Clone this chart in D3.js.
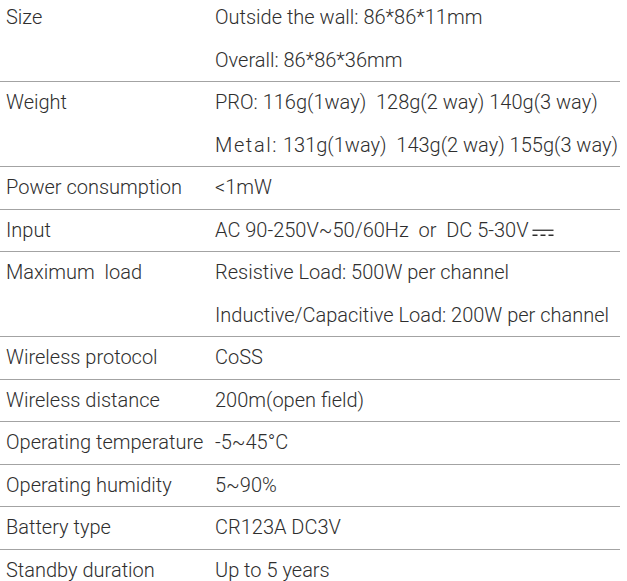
<!DOCTYPE html>
<html>
<head>
<meta charset="utf-8">
<script src="https://cdn.jsdelivr.net/npm/d3@7"></script>
<style>
  html, body { margin: 0; padding: 0; background: #fff; }
  svg { display: block; }
  text { font-family: Roboto, "Liberation Sans", Arial, sans-serif; font-weight: 300; font-size: 20px; fill: #2e2e2e; white-space: pre; }
</style>
</head>
<body>
<svg id="chart" width="627" height="581"></svg>
<script>
// ---- data ----
const labels = [
  "Size", "Weight", "Power consumption", "Input", "Maximum  load",
  "Wireless protocol", "Wireless distance", "Operating temperature",
  "Operating humidity", "Battery type", "Standby duration"
];
const sizeValues = ["Outside the wall: 86*86*11mm", "Overall: 86*86*36mm"];
const weightValues = ["PRO: 116g(1way)  128g(2 way) 140g(3 way)", "Metal: 131g(1way)  143g(2 way) 155g(3 way)"];
const powerValues = ["<1mW"];
const inputValues = ["AC 90-250V~50/60Hz  or  DC 5-30V"];
const loadValues = ["Resistive Load: 500W per channel", "Inductive/Capacitive Load: 200W per channel"];
const protocolValues = ["CoSS"];
const distanceValues = ["200m(open field)"];
const temperatureValues = ["-5~45°C"];
const humidityValues = ["5~90%"];
const batteryValues = ["CR123A DC3V"];
const standbyValues = ["Up to 5 years"];
const valueLists = [sizeValues, weightValues, powerValues, inputValues, loadValues,
  protocolValues, distanceValues, temperatureValues, humidityValues, batteryValues, standbyValues];

// ---- build rows ----
let acc = 0;
const rows = labels.map((label, i) => {
  const r = { label, values: valueLists[i], start: acc };
  acc += valueLists[i].length;
  return r;
});
const totalUnits = acc;

const svg = d3.select("#chart");
const y = d3.scaleLinear().domain([0, totalUnits]).range([-4, 591]);
const x = d3.scaleOrdinal().domain(["label", "value", "end"]).range([6, 215, 620]);
const unitH = y(1) - y(0);
const baseOff = 7.2;

// separator lines
svg.append("g").selectAll("line")
  .data(rows.slice(1))
  .join("line")
  .attr("x1", 0).attr("x2", x("end"))
  .attr("y1", d => Math.round(y(d.start)) + 0.5)
  .attr("y2", d => Math.round(y(d.start)) + 0.5)
  .attr("stroke", "#a3a3a3").attr("stroke-width", 1.2);

// labels
svg.append("g").selectAll("text")
  .data(rows)
  .join("text")
  .attr("x", x("label"))
  .attr("y", d => y(d.start) + unitH / 2 + baseOff)
  .text(d => d.label);

// values
const vals = rows.flatMap(r => r.values.map((v, j) => ({ v, u: r.start + j })));
const vt = svg.append("g").selectAll("text")
  .data(vals)
  .join("text")
  .attr("x", x("value"))
  .attr("y", d => y(d.u) + unitH / 2 + baseOff);

vt.each(function(d) {
  const t = d3.select(this);
  if (d.v.startsWith("Metal:")) {
    t.append("tspan").attr("letter-spacing", 1.6).text("Metal:");
    t.append("tspan").text(d.v.slice(6));
  } else {
    t.text(d.v);
  }
});

// DC symbol after the input text
vt.filter(d => d.v === inputValues[0]).each(function(d) {
  const len = this.getComputedTextLength();
  const x0 = x("value") + len + 4;
  const yb = y(d.u) + unitH / 2;
  const g = svg.append("g").attr("stroke", "#2e2e2e").attr("stroke-width", 1.3);
  g.append("line").attr("x1", x0).attr("x2", x0 + 21).attr("y1", yb + 0.5).attr("y2", yb + 0.5);
  g.append("line").attr("x1", x0).attr("x2", x0 + 21).attr("y1", yb + 5.5).attr("y2", yb + 5.5)
    .attr("stroke-dasharray", "5,3");
});
</script>
</body>
</html>
